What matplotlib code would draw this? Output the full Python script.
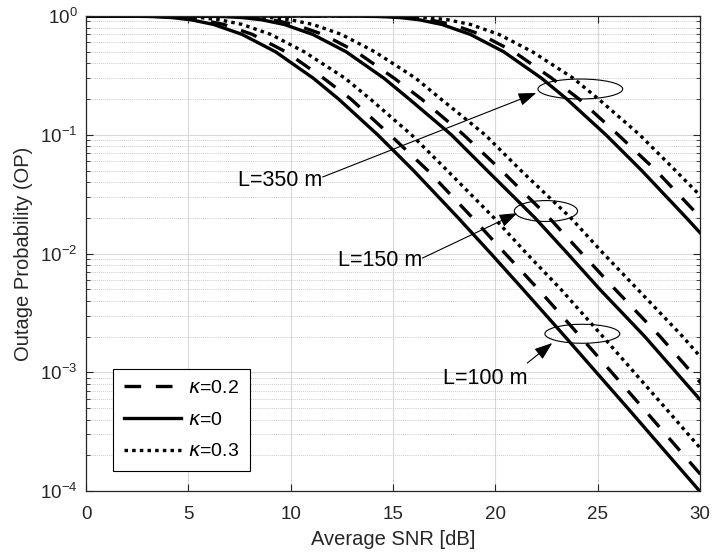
import matplotlib
matplotlib.use('agg')
import matplotlib.pyplot as plt
from matplotlib.patches import Ellipse

plt.rcParams['font.family'] = ['Liberation Sans', 'DejaVu Sans']

op_levels = [1.0, 0.999, 0.99, 0.97, 0.93, 0.85, 0.7, 0.5, 0.3, 0.2, 0.1,
             0.05, 0.02, 1e-2, 5e-3, 2e-3, 1e-3, 5e-4, 2e-4, 1e-4, 5e-5]

# average SNR (dB) where each curve crosses those levels
snr_L100_k0 = [0, 1.85, 3.28, 4.21, 5.13, 6.23, 7.63, 9.26, 11.10, 12.34, 14.25,
               16.00, 18.18, 19.78, 21.35, 23.40, 24.93, 26.46, 28.46, 29.98, 31.49]
snr_L100_k02 = [0, 2.35, 3.78, 4.71, 5.63, 6.73, 8.13, 9.76, 11.60, 12.94, 14.85,
                16.70, 18.88, 20.48, 22.10, 24.15, 25.68, 27.21, 29.21, 30.73, 32.24]
snr_L100_k03 = [0, 3.25, 4.68, 5.61, 6.53, 7.63, 9.03, 10.66, 12.65, 13.89, 15.90,
                17.65, 19.93, 21.53, 23.20, 25.25, 26.78, 28.31, 30.31, 31.83, 33.34]

snr_L150_k0 = [0, 5.30, 6.73, 7.66, 8.58, 9.68, 11.08, 12.71, 14.55, 15.79, 17.85,
               19.60, 21.93, 23.53, 25.10, 27.30, 28.83, 30.36, 32.36, 33.88, 35.39]
snr_L150_k02 = [0, 5.80, 7.23, 8.16, 9.08, 10.18, 11.58, 13.21, 15.05, 16.39, 18.45,
                20.30, 22.63, 24.23, 25.85, 28.05, 29.58, 31.11, 33.11, 34.63, 36.14]
snr_L150_k03 = [0, 6.70, 8.13, 9.06, 9.98, 11.08, 12.48, 14.11, 16.10, 17.34, 19.50,
                21.25, 23.68, 25.28, 26.95, 29.15, 30.68, 32.21, 34.21, 35.73, 37.24]

snr_L350_k0 = [0, 13.00, 14.43, 15.36, 16.28, 17.38, 18.78, 20.41, 22.25, 23.49, 25.40,
               27.15, 29.33, 30.93, 32.50, 34.55, 36.08, 37.61, 39.61, 41.13, 42.64]
snr_L350_k02 = [0, 13.50, 14.93, 15.86, 16.78, 17.88, 19.28, 20.91, 22.75, 24.09, 26.00,
                27.85, 30.03, 31.63, 33.25, 35.30, 36.83, 38.36, 40.36, 41.88, 43.39]
snr_L350_k03 = [0, 14.40, 15.83, 16.76, 17.68, 18.78, 20.18, 21.81, 23.80, 25.04, 27.05,
                28.80, 31.08, 32.68, 34.35, 36.40, 37.93, 39.46, 41.46, 42.98, 44.49]

kappa_labels = [r'$\kappa$=0.2', r'$\kappa$=0', r'$\kappa$=0.3']

# annotation text / arrows / ellipses (data coords)
group_labels = ['L=350 m', 'L=150 m', 'L=100 m']
label_pos = [(9.46, 0.0416), (14.39, 8.81e-3), (19.5, 8.95e-4)]
arrow_tail = [(11.56, 0.0441), (16.44, 9.16e-3), (21.56, 1.196e-3)]
arrow_tip = [(22.0, 0.225), (21.07, 0.0219), (22.78, 1.763e-3)]
ellipse_center = [(24.15, 0.243), (22.47, 0.0228), (24.25, 2.11e-3)]
ellipse_size = [(0.138, 0.042), (0.103, 0.044), (0.122, 0.040)]

dash_style = dict(color='k', lw=2.4, dashes=(5.0, 4.4))
solid_style = dict(color='k', lw=2.4, ls='-')
dot_style = dict(color='k', lw=2.4, dashes=(1.05, 1.25))

fig = plt.figure(figsize=(7.12, 5.59), dpi=100)
ax = fig.add_axes([0.1208, 0.1216, 0.8624, 0.8497])

groups = [(snr_L100_k02, snr_L100_k0, snr_L100_k03),
          (snr_L150_k02, snr_L150_k0, snr_L150_k03),
          (snr_L350_k02, snr_L350_k0, snr_L350_k03)]
handles = []
for i, (d, s, t) in enumerate(groups):
    h1, = ax.semilogy(d, op_levels, **dash_style)
    h2, = ax.semilogy(s, op_levels, **solid_style)
    h3, = ax.semilogy(t, op_levels, **dot_style)
    if i == 0:
        handles = [h1, h2, h3]

ax.set_xlim(0, 30)
ax.set_ylim(1e-4, 1)
ax.set_xticks([0, 5, 10, 15, 20, 25, 30])

gray = (0.15, 0.15, 0.15)
ax.grid(True, which='major', color=(0.85, 0.85, 0.85), lw=0.8, ls='-')
ax.grid(True, which='minor', axis='y', color=(0.72, 0.72, 0.72), lw=0.6, ls=(0, (1, 1.5)))
ax.set_axisbelow(True)
ax.tick_params(which='both', direction='in', top=True, right=True, colors=gray,
               labelsize=13.5)
ax.tick_params(which='major', length=5, width=0.8)
ax.tick_params(which='minor', length=3, width=0.6)
ax.tick_params(axis='x', pad=10.5)
ax.tick_params(axis='y', pad=6)
for sp in ax.spines.values():
    sp.set_color(gray)
    sp.set_linewidth(0.9)

ax.set_xlabel('Average SNR [dB]', fontsize=14.5, color=gray, labelpad=5)
ax.set_ylabel('Outage Probability (OP)', fontsize=14.5, color=gray, labelpad=5)

for lab, lp, tail, tip in zip(group_labels, label_pos, arrow_tail, arrow_tip):
    ax.text(lp[0], lp[1], lab, fontsize=15.5, ha='center', va='center', color='k')
    ax.annotate('', xy=tip, xytext=tail,
                arrowprops=dict(arrowstyle='-|>,head_length=1.1,head_width=0.4',
                                mutation_scale=10, lw=0.8, color='k',
                                shrinkA=0, shrinkB=0))

for c, (w, h) in zip(ellipse_center, ellipse_size):
    cx, cy = ax.transAxes.inverted().transform(ax.transData.transform(c))
    ax.add_patch(Ellipse((cx, cy), w, h, transform=ax.transAxes, fill=False,
                         lw=0.8, ec='k', zorder=5))

leg = ax.legend(handles, kappa_labels, loc='lower left',
                bbox_to_anchor=(0.044, 0.042), borderaxespad=0, fontsize=14,
                handlelength=2.95, handletextpad=0.35, labelspacing=0.72,
                borderpad=0.55, fancybox=False, framealpha=1, edgecolor='k')
leg.get_frame().set_linewidth(0.8)

fig.savefig('out.png', dpi=100)
